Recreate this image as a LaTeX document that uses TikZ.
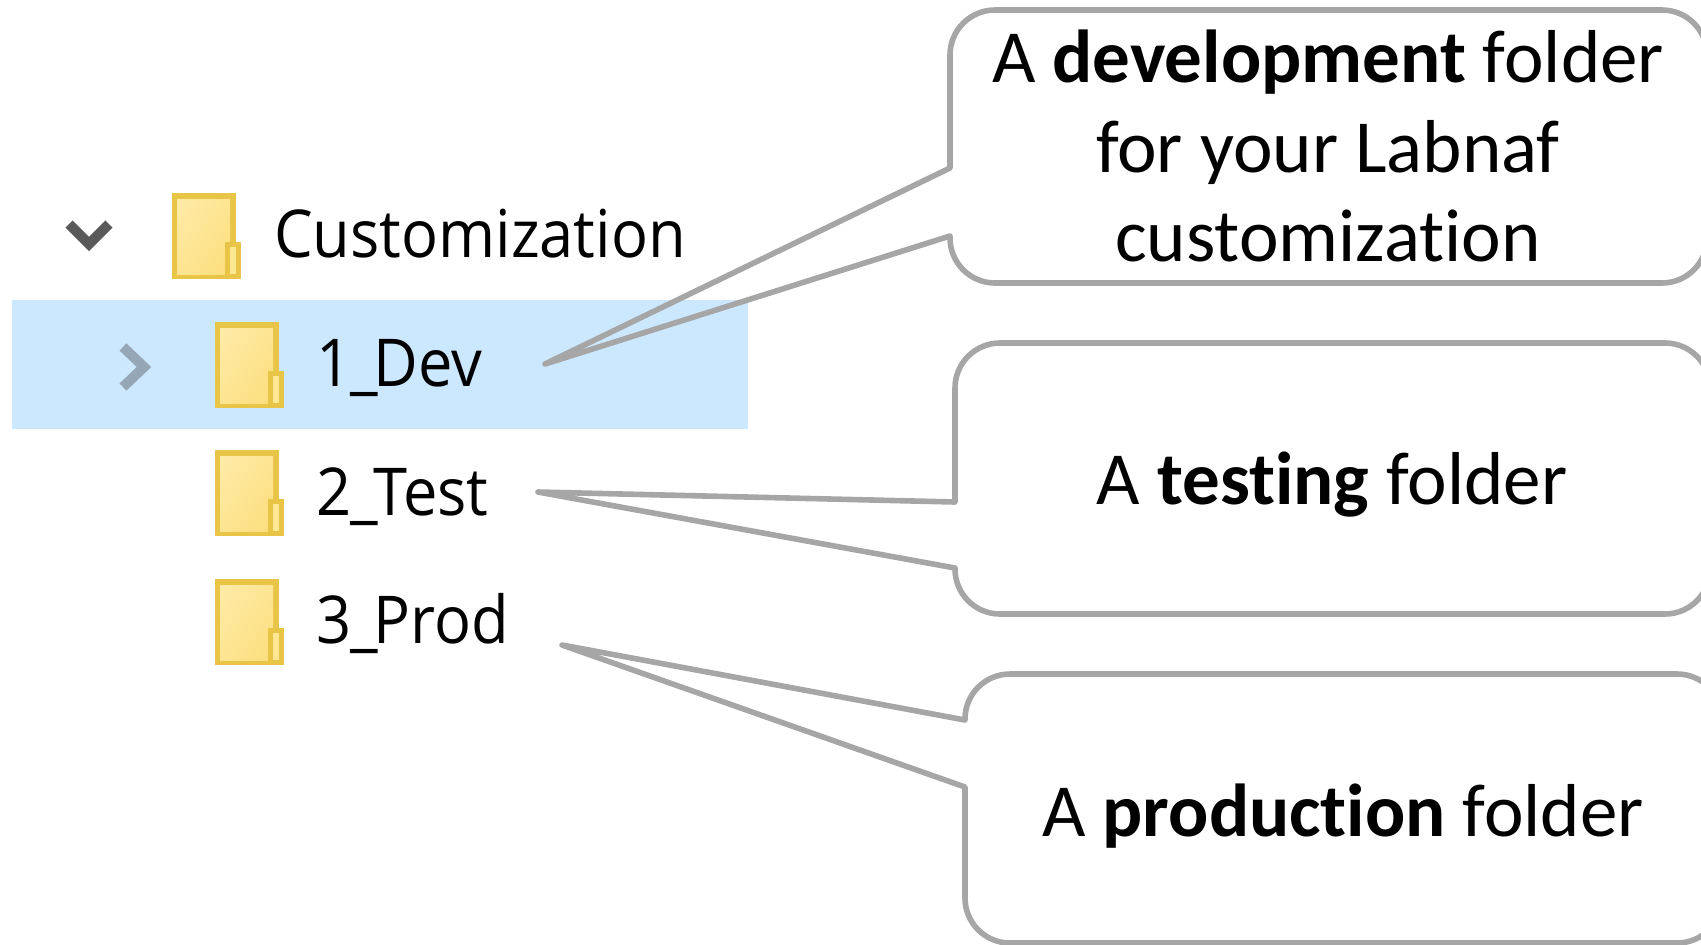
\documentclass[tikz,border=0pt]{standalone}
\usepackage{fontspec}
\setmainfont[Ligatures=NoCommon]{Carlito}
\newfontfamily\explorerfont[FakeStretch=0.93]{Open Sans}
\usetikzlibrary{shapes,shadings}
\definecolor{bandblue}{HTML}{CCE8FF}
\definecolor{calloutgray}{HTML}{A6A6A6}
\definecolor{folderedge}{HTML}{E9C547}
\definecolor{folderlight}{HTML}{FEEBA8}
\definecolor{folderdark}{HTML}{FCDE7C}
\definecolor{foldertab}{HTML}{FDE792}
\definecolor{chevrondark}{HTML}{595959}
\definecolor{chevronpale}{HTML}{95A6B6}
\newcommand{\foldericon}[2]{%
  \fill [folderedge] (#1,#2) rectangle +(64,86);
  \shade [upper left=folderlight, lower right=folderdark, upper right=folderlight!50!folderdark, lower left=folderlight!50!folderdark] (#1+5,#2+6) rectangle +(53,75);
  \fill [folderedge] (#1+53,#2+49) rectangle +(16,37);
  \fill [foldertab] (#1+58,#2+54) rectangle +(6,27);
}
\newcommand{\namesep}{\kern-0.5pt\_\kern-2pt}

\begin{document}
\begin{tikzpicture}[x=0.5pt, y=-0.5pt]
      \tikzstyle{every node}=[inner sep=0pt, outer sep=0pt]
      \tikzstyle{folderlabel}=[anchor=base west, font=\explorerfont\fontsize{33}{40}\selectfont]
      \tikzstyle{calloutlabel}=[align=center, font=\fontsize{37.5}{44.6}\selectfont]
      \tikzstyle{calloutline}=[draw=calloutgray, line width=2.8pt, line join=round]
      \tikzstyle{chevron}=[line width=5pt, line join=miter]
      \useasboundingbox (0,0) rectangle (1701,944);
      %%
  \fill [bandblue] (12,300) rectangle (748,429);
  \draw [chevron, color=chevrondark] (69,224) -- (89,244) -- (109,224);
  \draw [chevron, color=chevronpale] (123,347) -- (144,367) -- (123,387);
  \foldericon{172}{193}
  \foldericon{215}{322}
  \foldericon{215}{450}
  \foldericon{215}{579}
  \node (name_cust) at (274,257) [folderlabel] {Customization};
  \node (name_dev) at (316,386) [folderlabel] {1\namesep Dev};
  \node (name_test) at (316,515) [folderlabel] {2\namesep Test};
  \node (name_prod) at (316,643) [folderlabel] {3\namesep Prod};
  %%
  \coordinate (tip_dev) at (545,364);
  \coordinate (tip_test) at (538,492);
  \coordinate (tip_prod) at (562,645);
  \draw [calloutline] (tip_dev) -- (950,168) [rounded corners=22.5pt] -- (950,10) -- (1707,10) -- (1707,283) -- (950,283) [sharp corners] -- (950,236) -- cycle;
  \draw [calloutline] (tip_test) -- (955,502) [rounded corners=22.5pt] -- (955,343) -- (1710,343) -- (1710,614) -- (955,614) [sharp corners] -- (955,568) -- cycle;
  \draw [calloutline] (tip_prod) -- (965,720) [rounded corners=22.5pt] -- (965,674) -- (1722,674) -- (1722,943) -- (965,943) [sharp corners] -- (965,787) -- cycle;
  \node (text_dev) at (1328,146) [calloutlabel] {A \textbf{development} folder\\for your Labnaf\\customization};
  \node (text_test) at (1332,485) [calloutlabel] {A \textbf{testing} folder};
  \node (text_prod) at (1343,816) [calloutlabel] {A \textbf{production} folder};
%
\end{tikzpicture}
\end{document}
